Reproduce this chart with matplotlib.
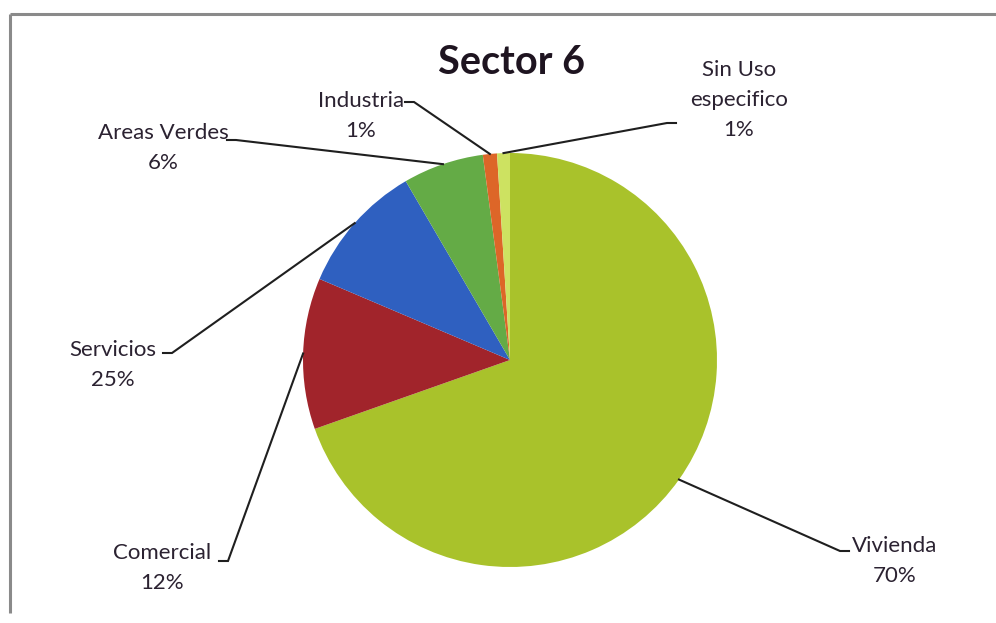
import numpy as np
import matplotlib
matplotlib.use("Agg")
import matplotlib.pyplot as plt

# ---- data ----
categories = ["Vivienda", "Comercial", "Servicios", "Areas Verdes", "Industria", "Sin Uso\nespecifico"]
values = [69.6, 11.8, 10.2, 6.3, 1.1, 1.0]
pct_labels = ["70%", "12%", "25%", "6%", "1%", "1%"]
colors = ["#a9c22b", "#a1242b", "#2f60c0", "#64ab46", "#dd6628", "#cde261"]
title = "Sector 6"

W, H = 996, 623
fig = plt.figure(figsize=(W / 100, H / 100), dpi=100)
ax = fig.add_axes([0, 0, 1, 1])

def py(y):
    return H - y

cx, cy, R = 510, py(360), 207
wedges, _ = ax.pie(values, colors=colors, startangle=90, counterclock=False,
                   center=(cx, cy), radius=R, frame=True,
                   wedgeprops=dict(linewidth=0))
ax.set_xlim(0, W)
ax.set_ylim(0, H)
ax.set_aspect("equal")
ax.axis("off")

# frame (left and top)
ax.plot([10, 10], [py(613), py(14)], color="#8a8a8a", lw=2.2, solid_capstyle="butt")
ax.plot([10, W], [py(14), py(14)], color="#8a8a8a", lw=2.2, solid_capstyle="butt")

ax.text(511, py(62), title, ha="center", va="center", fontsize=28.5,
        fontweight="bold", family="Lato", color="#1e1420")

# label layout: (text center x, center y of first line, elbow point)
label_pos = [
    (895, 546, (840, 551)),
    (162, 553, (228, 561)),
    (113, 350, (172, 353)),
    (163, 133, (236, 140)),
    (361, 101, (414, 102)),
    (739, 70, (667, 123)),
]

txtc = "#2b2231"
for w, cat, pct, (tx, ty, (ex, ey)) in zip(wedges, categories, pct_labels, label_pos):
    ang = np.deg2rad((w.theta1 + w.theta2) / 2)
    px_ = cx + R * np.cos(ang)
    py_ = cy + R * np.sin(ang)
    hx = ex + 9 if ex > cx else ex - 9
    ax.plot([px_, ex, hx], [py_, py(ey), py(ey)], color="#1f1f1f", lw=1.5,
            solid_joinstyle="miter")
    nlines = cat.count("\n") + 2
    bc = ty + (nlines - 1) * 30 / 2
    ax.text(tx, py(bc), cat + "\n" + pct, ha="center", va="center",
            fontsize=16, family="Lato", color=txtc, linespacing=1.62)

fig.savefig("out.png", dpi=100)
